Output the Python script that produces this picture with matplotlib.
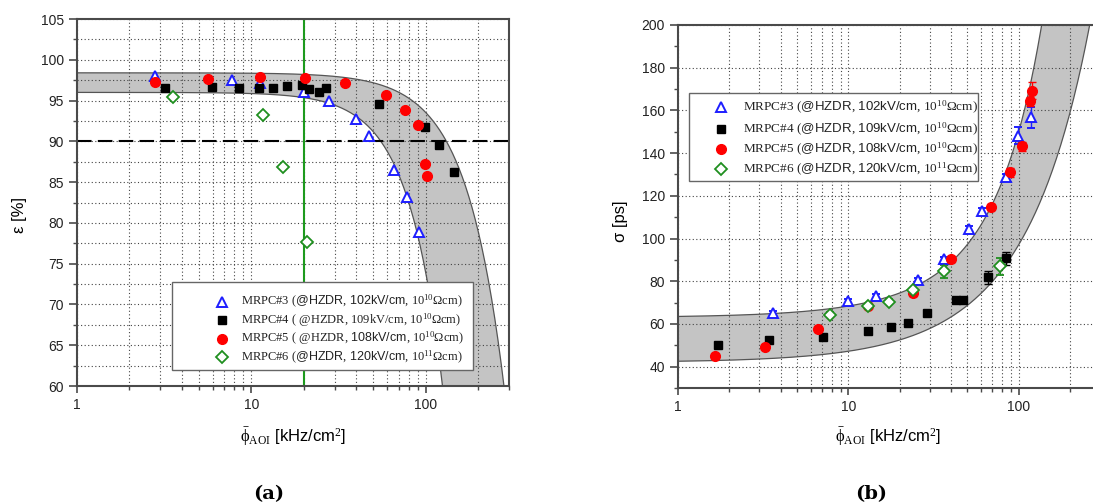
import numpy as np
import matplotlib
matplotlib.use("Agg")
import matplotlib.pyplot as plt
from matplotlib.patches import Rectangle
from matplotlib.ticker import FixedLocator, MultipleLocator, NullFormatter

plt.rcParams["font.family"] = ["Liberation Sans", "DejaVu Sans"]
plt.rcParams["mathtext.fontset"] = "custom"
plt.rcParams["mathtext.rm"] = "Liberation Serif"
plt.rcParams["mathtext.sf"] = "Liberation Sans"
plt.rcParams["mathtext.it"] = "Liberation Serif:italic"
plt.rcParams["mathtext.bf"] = "Liberation Serif:bold"

# --- (a) efficiency vs. mean particle flux -------------------------------
eff_x3 = [2.79, 7.73, 11.2, 19.95, 28.0, 40.0, 47.6, 65.7, 78.2, 91.8]
eff_y3 = [98.0, 97.5, 97.2, 96.0, 94.9, 92.7, 90.7, 86.5, 83.2, 78.9]
eff_x4 = [3.18, 5.94, 8.53, 11.1, 13.4, 16.1, 19.4, 21.3, 24.3, 26.9, 53.7, 99.5, 119.6, 145.0]
eff_y4 = [96.5, 96.7, 96.6, 96.6, 96.6, 96.8, 96.9, 96.4, 96.0, 96.5, 94.6, 91.8, 89.5, 86.2]
eff_x5 = [2.79, 5.66, 11.25, 20.4, 34.5, 59.3, 76.5, 89.8, 99.1, 102.3]
eff_y5 = [97.3, 97.6, 97.85, 97.8, 97.2, 95.7, 93.9, 92.0, 87.2, 85.7]
eff_x6 = [3.54, 11.67, 15.25, 20.8]
eff_y6 = [95.4, 93.2, 86.8, 77.7]

# band model: eps = e0 * (1 - (phi/phi0)^n)
eff_band_hi = (98.4, 450.0, 2.0)
eff_band_lo = (96.0, 195.0, 2.2)
eff_limit = 90.0
flux_cut = 20.0

# --- (b) time resolution vs. mean particle flux --------------------------
res_x3 = [3.63, 10.0, 14.5, 25.6, 36.2, 51.4, 61.0, 84.0, 99.5, 118.0]
res_y3 = [65.0, 70.7, 72.9, 80.4, 90.4, 104.3, 112.9, 128.8, 148.1, 156.7]
res_e3 = [1.0, 1.0, 1.0, 1.0, 1.0, 1.5, 1.5, 1.5, 4.0, 5.0]
res_x4 = [1.71, 3.42, 7.11, 13.1, 17.9, 22.5, 28.8, 43.1, 46.9, 66.1, 84.7]
res_y4 = [50.3, 52.5, 53.8, 56.6, 58.6, 60.3, 65.3, 71.0, 71.4, 81.8, 90.8]
res_e4 = [1.0, 1.0, 1.0, 1.0, 1.0, 1.0, 1.0, 1.0, 1.0, 3.0, 3.0]
res_x5 = [1.64, 3.25, 6.60, 13.1, 23.8, 40.2, 69.0, 88.8, 104.4, 115.9, 119.2]
res_y5 = [45.0, 49.1, 57.4, 68.6, 74.7, 90.4, 114.8, 131.0, 143.2, 164.2, 169.2]
res_e5 = [1.0, 1.0, 1.0, 1.0, 1.5, 1.5, 1.5, 2.0, 2.0, 2.0, 4.0]
res_x6 = [7.79, 13.1, 17.4, 23.8, 36.2, 78.1]
res_y6 = [64.4, 68.2, 70.5, 76.0, 84.7, 86.9]
res_e6 = [1.0, 1.0, 1.0, 1.0, 3.0, 4.0]

# band model: sigma = s0 + a*phi + b*phi^2
res_band_hi = (63.0, 0.50, 0.0037)
res_band_lo = (42.0, 0.517, 0.000339)


def key_label(n, field, rho, sans=True, lead=""):
    # serif text with the site/field part in a sans face
    if sans:
        site = r"$\mathsf{@HZDR}$, $\mathsf{%s}$," % field
    else:
        site = "@HZDR, %s," % field
    return "MRPC#%d (%s%s 10$^{\\mathrm{%d}}$Ωcm)" % (n, lead, site, rho)


legend_a = [
    key_label(3, "102kV/cm", 10),
    key_label(4, "109kV/cm", 10, sans=False, lead=" "),
    "MRPC#5 ( @HZDR, $\\mathsf{108kV/cm}$, 10$^{\\mathrm{10}}$Ωcm)",
    key_label(6, "120kV/cm", 11),
]
legend_b = [
    key_label(3, "102kV/cm", 10),
    key_label(4, "109kV/cm", 10),
    key_label(5, "108kV/cm", 10),
    key_label(6, "120kV/cm", 11),
]

S3 = dict(marker="^", ms=7.5, mfc="white", mec="#1e1eff", mew=1.4, ls="none")
S4 = dict(marker="s", ms=6, mfc="black", mec="black", ls="none")
S5 = dict(marker="o", ms=7, mfc="#ff0000", mec="#ff0000", ls="none")
S6 = dict(marker="D", ms=6, mfc="white", mec="#1f8f1f", mew=1.3, ls="none")
STYLES = [S3, S4, S5, S6]

SPINE = "#4a4a4a"
XLABEL = r"$\bar{\mathrm{\phi}}_{\mathrm{AOI}}$ [kHz/cm$^{\mathrm{2}}$]"


def style_axes(ax):
    ax.set_xscale("log")
    ax.set_xlim(1, 300)
    ax.xaxis.set_major_locator(FixedLocator([1, 10, 100]))
    ax.set_xticklabels(["1", "10", "100"])
    ax.xaxis.set_minor_locator(FixedLocator([k * 10**d for d in range(3) for k in range(2, 10)]))
    ax.xaxis.set_minor_formatter(NullFormatter())
    for s in ax.spines.values():
        s.set_color(SPINE)
        s.set_linewidth(1.5)
    ax.tick_params(which="major", direction="out", length=5, width=1.2, color=SPINE,
                   labelsize=10, labelcolor="#222222")
    ax.tick_params(which="minor", direction="out", length=3, width=1.0, color=SPINE)
    ax.tick_params(axis="y", which="major", length=6)
    ax.grid(True, which="both", axis="x", color="#444444", lw=0.8, ls=(0, (1, 2.2)))


def draw_key(ax, box, rows_y, marker_x, text_x, labels, size):
    x0, y0, x1, y1 = box
    ax.add_patch(Rectangle((x0, y0), x1 - x0, y1 - y0, transform=ax.transAxes,
                           facecolor="white", edgecolor="#666666", lw=1.0,
                           zorder=5, clip_on=False))
    for y, st, lab in zip(rows_y, STYLES, labels):
        ax.plot([marker_x], [y], transform=ax.transAxes, clip_on=False, zorder=6, **st)
        ax.text(text_x, y, lab, transform=ax.transAxes, ha="left", va="center",
                fontsize=size, family="Liberation Serif", color="#222222", zorder=6)


fig = plt.figure(figsize=(10.93, 5.04), dpi=100)

# panel (a)
ax = fig.add_axes([0.0704, 0.2341, 0.3952, 0.7282])
style_axes(ax)
phi = np.logspace(0, np.log10(300), 400)
e0, p0, n = eff_band_hi
hi = e0 * (1 - (phi / p0) ** n)
e0, p0, n = eff_band_lo
lo = e0 * (1 - (phi / p0) ** n)
ax.fill_between(phi, lo, hi, color="#c4c4c4", lw=0, zorder=1)
ax.plot(phi, hi, color="#555555", lw=0.9, zorder=2)
ax.plot(phi, lo, color="#555555", lw=0.9, zorder=2)
ax.axhline(eff_limit, color="black", lw=1.5, ls=(0, (7, 3)), zorder=2)
ax.axvline(flux_cut, color="#1d9a1d", lw=1.5, zorder=2)
for xs, ys, st in zip([eff_x3, eff_x4, eff_x5, eff_x6], [eff_y3, eff_y4, eff_y5, eff_y6],
                      [S3, S4, S5, S6]):
    ax.plot(xs, ys, zorder=3, **st)
ax.set_ylim(60, 105)
ax.yaxis.set_major_locator(MultipleLocator(5))
ax.yaxis.set_minor_locator(MultipleLocator(2.5))
ax.grid(True, which="both", axis="y", color="#444444", lw=0.8, ls=(0, (1, 2.2)))
ax.set_xlabel(XLABEL, fontsize=12, va="center")
ax.xaxis.set_label_coords(0.5, -0.139)
ax.set_ylabel("ε [%]", fontsize=12, va="center", ha="center")
ax.yaxis.set_label_coords(-0.132, 0.466)
draw_key(ax, (0.220, 0.0436, 0.917, 0.283), [0.229, 0.179, 0.129, 0.079],
         0.336, 0.380, legend_a, 9)

# panel (b)
ax = fig.add_axes([0.6203, 0.2302, 0.3861, 0.7202])
style_axes(ax)
ax.spines["right"].set_visible(False)
s0, a, b = res_band_hi
hi = s0 + a * phi + b * phi**2
s0, a, b = res_band_lo
lo = s0 + a * phi + b * phi**2
ax.fill_between(phi, lo, hi, color="#c4c4c4", lw=0, zorder=1)
ax.plot(phi, hi, color="#555555", lw=0.9, zorder=2)
ax.plot(phi, lo, color="#555555", lw=0.9, zorder=2)
for xs, ys, es, st in zip([res_x3, res_x4, res_x5, res_x6], [res_y3, res_y4, res_y5, res_y6],
                          [res_e3, res_e4, res_e5, res_e6], [S3, S4, S5, S6]):
    ax.errorbar(xs, ys, yerr=es, ecolor=st["mec"], elinewidth=1.0, capsize=3,
                capthick=1.0, zorder=3, **st)
ax.set_ylim(30, 200)
ax.yaxis.set_major_locator(FixedLocator(np.arange(40, 201, 20)))
ax.yaxis.set_minor_locator(MultipleLocator(10))
ax.grid(True, which="major", axis="y", color="#444444", lw=0.8, ls=(0, (1, 2.2)))
ax.set_xlabel(XLABEL, fontsize=12, va="center")
ax.xaxis.set_label_coords(0.498, -0.135)
ax.set_ylabel("σ [ps]", fontsize=12, va="center", ha="center")
ax.yaxis.set_label_coords(-0.137, 0.46)
draw_key(ax, (0.026, 0.570, 0.711, 0.813), [0.773, 0.713, 0.658, 0.603],
         0.101, 0.154, legend_b, 9.5)

fig.text(0.2457, 0.0198, "(a)", ha="center", va="center", fontsize=14,
         fontweight="bold", family="DejaVu Serif")
fig.text(0.797, 0.0198, "(b)", ha="center", va="center", fontsize=14,
         fontweight="bold", family="DejaVu Serif")

fig.savefig("out.png", dpi=100)
